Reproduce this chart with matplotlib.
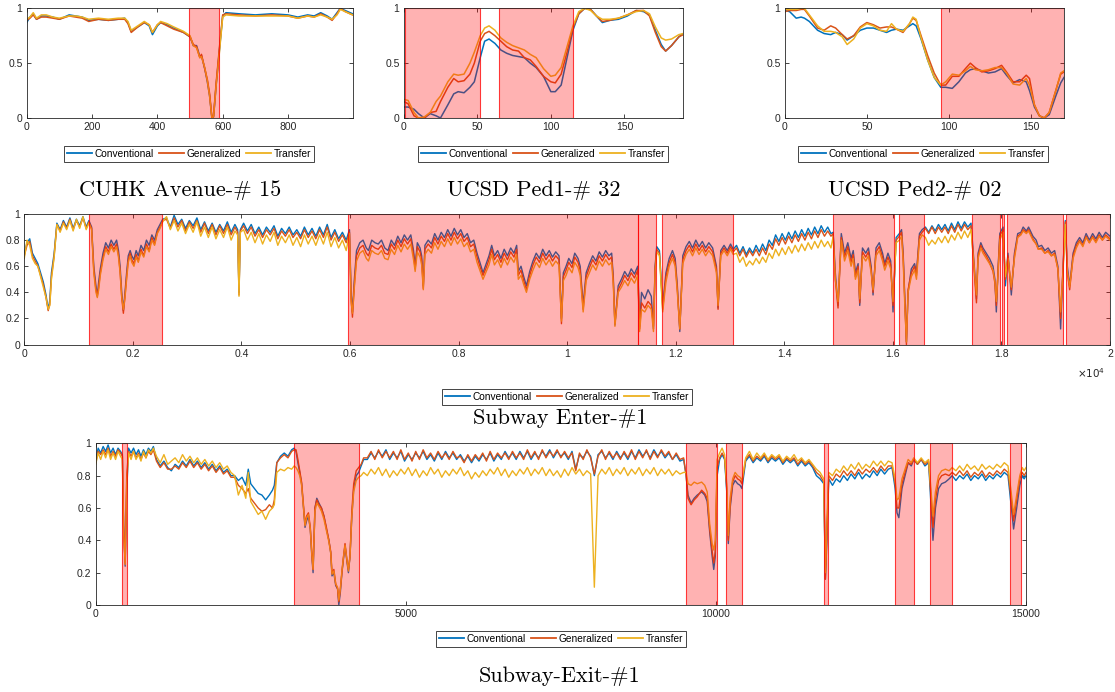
import numpy as np
import matplotlib
matplotlib.use('Agg')
import matplotlib.pyplot as plt
from matplotlib.lines import Line2D

plt.rcParams['font.family'] = ['Liberation Sans', 'DejaVu Sans']

names = ['Conventional', 'Generalized', 'Transfer']
colors = ['#0072BD', '#D95319', '#EDB120']

# ---------------- CUHK Avenue-# 15 ----------------
avenue_x = [0, 10, 20, 30, 45, 60, 80, 100, 130, 150, 170, 190, 220, 250, 280, 300, 310, 320, 340, 360,
            375, 385, 400, 410, 430, 450, 480, 500, 510, 520, 530, 535, 545, 553, 560, 567, 572, 580, 590, 600,
            610, 650, 700, 750, 800, 830, 860, 880, 900, 920, 935, 950, 960, 975, 990, 998]
avenue_conv = [0.87, 0.92, 0.95, 0.9, 0.93, 0.93, 0.92, 0.9, 0.94, 0.93, 0.92, 0.89, 0.9, 0.89, 0.9, 0.91, 0.87, 0.79, 0.83, 0.87,
               0.84, 0.76, 0.84, 0.87, 0.85, 0.82, 0.78, 0.74, 0.66, 0.66, 0.56, 0.57, 0.45, 0.33, 0.2, 0.0, 0.01, 0.3, 0.62, 0.93,
               0.96, 0.95, 0.94, 0.95, 0.94, 0.92, 0.94, 0.93, 0.96, 0.93, 0.9, 0.96, 1.0, 0.98, 0.96, 0.95]
avenue_gen = [0.89, 0.91, 0.94, 0.9, 0.92, 0.92, 0.91, 0.9, 0.93, 0.92, 0.91, 0.88, 0.9, 0.89, 0.9, 0.9, 0.86, 0.78, 0.83, 0.87,
              0.85, 0.78, 0.85, 0.87, 0.84, 0.81, 0.78, 0.74, 0.67, 0.65, 0.55, 0.58, 0.45, 0.35, 0.22, 0.0, 0.02, 0.32, 0.64, 0.94,
              0.95, 0.94, 0.93, 0.94, 0.93, 0.91, 0.93, 0.92, 0.95, 0.92, 0.89, 0.95, 1.0, 0.97, 0.95, 0.94]
avenue_trans = [0.9, 0.92, 0.96, 0.91, 0.94, 0.94, 0.92, 0.91, 0.93, 0.93, 0.92, 0.9, 0.91, 0.9, 0.91, 0.91, 0.88, 0.8, 0.84, 0.88,
                0.85, 0.78, 0.85, 0.88, 0.86, 0.83, 0.79, 0.75, 0.66, 0.64, 0.55, 0.56, 0.46, 0.34, 0.2, 0.0, 0.01, 0.3, 0.6, 0.92,
                0.94, 0.93, 0.93, 0.93, 0.93, 0.91, 0.93, 0.92, 0.94, 0.92, 0.9, 0.94, 0.99, 0.97, 0.95, 0.94]
avenue_spans = [(497, 588)]

# ---------------- UCSD Ped1-# 32 ----------------
ped1_x = [0, 3, 7, 10, 14, 18, 22, 25, 30, 34, 37, 41, 45, 48, 52, 55, 58, 62, 66, 70, 74, 78, 82, 86,
          90, 95, 100, 103, 107, 111, 115, 119, 123, 127, 131, 135, 140, 146, 152, 158, 163, 167, 171, 175, 178, 182, 187, 190]
ped1_conv = [0.1, 0.1, 0.08, 0.04, 0.0, 0.04, 0.02, 0.0, 0.12, 0.22, 0.24, 0.23, 0.28, 0.33, 0.55, 0.7, 0.72, 0.68, 0.62, 0.59, 0.57, 0.56, 0.55, 0.5,
             0.46, 0.38, 0.24, 0.24, 0.3, 0.55, 0.8, 0.95, 1.0, 0.99, 0.93, 0.87, 0.89, 0.9, 0.93, 0.98, 0.97, 0.94, 0.8, 0.67, 0.61, 0.66, 0.74, 0.77]
ped1_gen = [0.15, 0.13, 0.02, 0.0, 0.0, 0.05, 0.06, 0.15, 0.28, 0.36, 0.33, 0.34, 0.4, 0.5, 0.7, 0.77, 0.79, 0.75, 0.7, 0.65, 0.62, 0.61, 0.55, 0.53,
            0.47, 0.38, 0.33, 0.32, 0.4, 0.6, 0.82, 0.95, 1.0, 0.99, 0.93, 0.88, 0.89, 0.91, 0.94, 0.98, 0.98, 0.93, 0.78, 0.65, 0.61, 0.66, 0.74, 0.76]
ped1_trans = [0.17, 0.16, 0.05, 0.0, 0.01, 0.05, 0.15, 0.2, 0.33, 0.4, 0.39, 0.4, 0.5, 0.6, 0.75, 0.82, 0.84, 0.8, 0.73, 0.69, 0.66, 0.64, 0.62, 0.58,
              0.55, 0.45, 0.38, 0.39, 0.46, 0.65, 0.84, 0.97, 1.0, 0.98, 0.93, 0.9, 0.9, 0.91, 0.94, 0.97, 0.98, 0.95, 0.83, 0.73, 0.71, 0.72, 0.76, 0.77]
ped1_spans = [(1, 52), (65, 115)]

# ---------------- UCSD Ped2-# 02 ----------------
ped2_x = [0, 3, 7, 10, 12, 15, 20, 24, 28, 31, 35, 38, 42, 46, 50, 54, 58, 62, 65, 68, 72, 76, 78, 80, 83,
          87, 91, 95, 98, 102, 106, 110, 113, 116, 120, 124, 128, 132, 135, 139, 143, 147, 149, 152, 155, 158, 161, 165, 168, 170]
ped2_conv = [0.98, 0.97, 0.91, 0.92, 0.91, 0.88, 0.8, 0.77, 0.76, 0.78, 0.76, 0.71, 0.75, 0.8, 0.82, 0.82, 0.8, 0.78, 0.8, 0.81, 0.8, 0.84, 0.86, 0.84, 0.72,
             0.53, 0.37, 0.28, 0.28, 0.27, 0.33, 0.41, 0.44, 0.45, 0.43, 0.41, 0.42, 0.45, 0.39, 0.32, 0.35, 0.33, 0.25, 0.1, 0.02, 0.0, 0.03, 0.2, 0.32, 0.37]
ped2_gen = [0.97, 0.98, 0.98, 0.99, 0.99, 0.93, 0.82, 0.8, 0.84, 0.82, 0.76, 0.72, 0.75, 0.83, 0.87, 0.85, 0.82, 0.83, 0.83, 0.81, 0.78, 0.86, 0.91, 0.89, 0.75,
            0.57, 0.41, 0.3, 0.3, 0.38, 0.38, 0.45, 0.5, 0.46, 0.42, 0.43, 0.45, 0.48, 0.42, 0.33, 0.33, 0.39, 0.36, 0.12, 0.02, 0.0, 0.05, 0.25, 0.4, 0.42]
ped2_trans = [0.99, 0.99, 0.99, 1.0, 1.0, 0.94, 0.84, 0.79, 0.79, 0.78, 0.74, 0.67, 0.72, 0.82, 0.86, 0.84, 0.8, 0.79, 0.86, 0.81, 0.79, 0.86, 0.92, 0.9, 0.73,
              0.53, 0.37, 0.3, 0.33, 0.4, 0.39, 0.43, 0.47, 0.44, 0.43, 0.44, 0.46, 0.46, 0.41, 0.31, 0.3, 0.36, 0.3, 0.12, 0.02, 0.0, 0.05, 0.25, 0.41, 0.43]
ped2_spans = [(95, 170)]

# ---------------- Subway Enter-#1 ----------------
enter_x = ([0, 50, 100, 150, 200, 250, 300, 350, 400, 440, 470, 500, 550, 600]
           + [660, 720, 780, 840, 900, 960, 1020, 1080, 1140, 1190]
           + [1240, 1280, 1320, 1345, 1370, 1400, 1450, 1500, 1550, 1600, 1650, 1700, 1735, 1765, 1795, 1825, 1855,
              1885, 1915, 1950, 1980, 2020, 2060, 2100, 2150, 2200, 2250, 2300, 2350, 2400, 2450, 2500, 2550]
           + list(range(2620, 3881, 70)) + [3930, 3955, 3980]
           + list(range(4040, 5931, 70))
           + [5990, 6020, 6045, 6080, 6120, 6180, 6240, 6300, 6340, 6400, 6460, 6520, 6580, 6640]
           + [6700, 6760, 6820, 6880, 6940, 7000, 7060, 7120, 7170, 7200, 7240, 7290, 7320, 7350, 7380, 7440, 7500, 7560, 7620, 7680,
              7740, 7800, 7860, 7920, 7980, 8040, 8100, 8160, 8220, 8280, 8340, 8400, 8450, 8510, 8560, 8610, 8660, 8720, 8780, 8840,
              8900, 8960, 9020, 9070, 9100, 9150, 9200, 9250, 9310, 9370, 9430, 9490, 9550, 9610, 9670, 9730, 9790, 9850, 9895, 9930,
              9980, 10030, 10090, 10140, 10200, 10240, 10295, 10350, 10410, 10470, 10530, 10590, 10650, 10710, 10770, 10820, 10850, 10880, 10940, 11000,
              11060, 11120, 11180, 11240, 11300, 11335, 11370, 11430, 11490, 11550, 11590, 11620, 11650, 11700, 11760, 11820, 11880, 11940, 11990, 12030,
              12075, 12130, 12190, 12250, 12310, 12370, 12430, 12490, 12550, 12610, 12680, 12750, 12780, 12830, 12890, 12950, 13010, 13060]
           + list(range(13120, 14861, 60))
           + [14900, 14940, 14990, 15050, 15110, 15170, 15230, 15270, 15310, 15360, 15390, 15440, 15500, 15550, 15600, 15635, 15690, 15750,
              15810, 15850, 15910, 15960, 16003, 16060, 16120, 16160, 16190, 16220, 16250, 16280, 16340, 16400, 16435, 16490, 16540]
           + list(range(16600, 17441, 60))
           + [17500, 17540, 17570, 17620, 17660, 17720, 17780, 17845, 17880, 17906, 17940, 17970, 18030, 18073, 18120, 18182, 18240, 18300,
              18360, 18400, 18460, 18500, 18580, 18640, 18680, 18740, 18800, 18860, 18920, 18980, 19040, 19090, 19135, 19177, 19214, 19257,
              19320, 19380, 19440, 19500, 19560, 19620, 19680, 19740, 19800, 19860, 19920, 20000])
enter_conv = ([0.70, 0.78, 0.81, 0.70, 0.66, 0.62, 0.55, 0.48, 0.38, 0.27, 0.34, 0.55, 0.70, 0.93]
              + [0.88, 0.95, 0.90, 0.97, 0.89, 0.96, 0.91, 0.98, 0.90, 0.95]
              + [0.90, 0.60, 0.45, 0.37, 0.48, 0.58, 0.70, 0.78, 0.74, 0.80, 0.76, 0.80, 0.72, 0.60, 0.40, 0.26, 0.40,
                 0.55, 0.68, 0.72, 0.68, 0.65, 0.72, 0.68, 0.76, 0.72, 0.80, 0.76, 0.84, 0.80, 0.88, 0.92, 0.96]
              + [0.97, 0.90, 0.99, 0.92, 0.96, 0.89, 0.95, 0.91, 0.97, 0.88, 0.94, 0.87, 0.93, 0.86, 0.92, 0.87, 0.94, 0.86, 0.92, 0.88, 0.40, 0.88]
              + [0.93, 0.87, 0.92, 0.85, 0.90, 0.84, 0.90, 0.86, 0.91, 0.83, 0.89, 0.85, 0.90, 0.84, 0.88, 0.83, 0.90, 0.84, 0.89, 0.83,
                 0.90, 0.84, 0.92, 0.82, 0.88, 0.81, 0.86, 0.80]
              + [0.88, 0.40, 0.25, 0.50, 0.72, 0.78, 0.80, 0.74, 0.72, 0.80, 0.78, 0.77, 0.80, 0.74]
              + [0.72, 0.80, 0.76, 0.83, 0.78, 0.84, 0.80, 0.84, 0.72, 0.60, 0.78, 0.74, 0.68, 0.45, 0.76, 0.80, 0.77, 0.85, 0.80, 0.86,
                 0.82, 0.88, 0.83, 0.89, 0.84, 0.88, 0.82, 0.85, 0.78, 0.80, 0.70, 0.62, 0.55, 0.62, 0.68, 0.76, 0.68, 0.72, 0.66, 0.73,
                 0.68, 0.74, 0.70, 0.76, 0.56, 0.60, 0.52, 0.45, 0.56, 0.64, 0.70, 0.66, 0.73, 0.68, 0.72, 0.67, 0.71, 0.68, 0.20, 0.55,
                 0.60, 0.66, 0.62, 0.70, 0.66, 0.60, 0.30, 0.55, 0.62, 0.68, 0.64, 0.71, 0.67, 0.72, 0.68, 0.70, 0.52, 0.15, 0.45, 0.50,
                 0.56, 0.52, 0.58, 0.54, 0.60, 0.14, 0.40, 0.35, 0.42, 0.37, 0.12, 0.60, 0.75, 0.72, 0.30, 0.55, 0.66, 0.72, 0.66, 0.45,
                 0.10, 0.68, 0.75, 0.79, 0.74, 0.80, 0.75, 0.79, 0.74, 0.78, 0.74, 0.60, 0.28, 0.72, 0.76, 0.72, 0.77, 0.73]
              + [0.76, 0.70, 0.75, 0.69, 0.74, 0.70, 0.76, 0.71, 0.77, 0.72, 0.80, 0.76, 0.84, 0.79, 0.85, 0.80, 0.86, 0.81, 0.87, 0.82,
                 0.88, 0.83, 0.89, 0.84, 0.90, 0.85, 0.91, 0.86, 0.90, 0.85]
              + [0.86, 0.55, 0.30, 0.85, 0.70, 0.78, 0.66, 0.72, 0.55, 0.62, 0.30, 0.74, 0.70, 0.74, 0.60, 0.38, 0.74, 0.78,
                 0.70, 0.62, 0.70, 0.64, 0.25, 0.82, 0.85, 0.88, 0.70, 0.35, 0.02, 0.40, 0.58, 0.62, 0.55, 0.85, 0.88]
              + [0.90, 0.86, 0.91, 0.87, 0.92, 0.88, 0.92, 0.87, 0.93, 0.88, 0.94, 0.89, 0.94, 0.90, 0.93]
              + [0.60, 0.35, 0.70, 0.78, 0.74, 0.70, 0.66, 0.60, 0.50, 0.25, 0.60, 0.85, 0.90, 0.45, 0.70, 0.38, 0.70, 0.85,
                 0.86, 0.90, 0.87, 0.90, 0.83, 0.80, 0.75, 0.76, 0.72, 0.74, 0.70, 0.72, 0.60, 0.12, 0.60, 0.95, 0.60, 0.45,
                 0.70, 0.78, 0.82, 0.78, 0.85, 0.80, 0.85, 0.81, 0.86, 0.82, 0.86, 0.83])
enter_gen = ([0.68, 0.76, 0.79, 0.68, 0.64, 0.60, 0.53, 0.46, 0.36, 0.26, 0.31, 0.52, 0.68, 0.92]
             + [0.87, 0.94, 0.89, 0.96, 0.88, 0.95, 0.90, 0.97, 0.89, 0.94]
             + [0.89, 0.57, 0.42, 0.38, 0.44, 0.55, 0.67, 0.75, 0.71, 0.77, 0.73, 0.77, 0.69, 0.56, 0.36, 0.24, 0.37,
                0.52, 0.65, 0.70, 0.65, 0.62, 0.69, 0.64, 0.73, 0.68, 0.77, 0.72, 0.82, 0.77, 0.86, 0.90, 0.95]
             + [0.96, 0.89, 0.97, 0.90, 0.95, 0.87, 0.94, 0.89, 0.95, 0.86, 0.93, 0.85, 0.92, 0.84, 0.91, 0.85, 0.92, 0.84, 0.90, 0.86, 0.38, 0.87]
             + [0.91, 0.85, 0.90, 0.83, 0.88, 0.82, 0.88, 0.84, 0.89, 0.81, 0.87, 0.83, 0.88, 0.82, 0.86, 0.81, 0.88, 0.82, 0.87, 0.81,
                0.88, 0.82, 0.90, 0.80, 0.86, 0.79, 0.84, 0.78]
             + [0.86, 0.35, 0.21, 0.46, 0.68, 0.74, 0.76, 0.70, 0.68, 0.76, 0.74, 0.73, 0.76, 0.70]
             + [0.69, 0.77, 0.73, 0.80, 0.75, 0.81, 0.77, 0.81, 0.69, 0.58, 0.75, 0.71, 0.65, 0.43, 0.73, 0.77, 0.74, 0.82, 0.77, 0.83,
                0.79, 0.85, 0.80, 0.86, 0.81, 0.85, 0.79, 0.82, 0.75, 0.77, 0.67, 0.59, 0.53, 0.59, 0.65, 0.73, 0.65, 0.69, 0.63, 0.70,
                0.65, 0.71, 0.67, 0.73, 0.53, 0.57, 0.49, 0.42, 0.53, 0.61, 0.67, 0.63, 0.70, 0.65, 0.69, 0.64, 0.68, 0.65, 0.16, 0.52,
                0.57, 0.63, 0.59, 0.67, 0.63, 0.57, 0.27, 0.52, 0.59, 0.65, 0.61, 0.68, 0.64, 0.69, 0.65, 0.67, 0.49, 0.16, 0.42, 0.47,
                0.53, 0.49, 0.55, 0.51, 0.57, 0.12, 0.32, 0.28, 0.33, 0.30, 0.14, 0.58, 0.73, 0.70, 0.27, 0.52, 0.63, 0.69, 0.63, 0.42,
                0.12, 0.65, 0.72, 0.76, 0.71, 0.77, 0.72, 0.76, 0.71, 0.75, 0.71, 0.58, 0.27, 0.70, 0.74, 0.70, 0.75, 0.71]
             + [0.74, 0.68, 0.73, 0.67, 0.72, 0.68, 0.73, 0.68, 0.74, 0.69, 0.77, 0.73, 0.81, 0.76, 0.82, 0.77, 0.83, 0.78, 0.84, 0.79,
                0.85, 0.80, 0.86, 0.81, 0.87, 0.82, 0.88, 0.83, 0.87, 0.83]
             + [0.85, 0.50, 0.28, 0.82, 0.67, 0.75, 0.63, 0.69, 0.52, 0.60, 0.32, 0.71, 0.67, 0.71, 0.57, 0.40, 0.71, 0.75,
                0.67, 0.60, 0.67, 0.61, 0.30, 0.80, 0.83, 0.86, 0.67, 0.33, 0.00, 0.42, 0.55, 0.60, 0.53, 0.83, 0.86]
             + [0.89, 0.85, 0.90, 0.85, 0.90, 0.86, 0.90, 0.85, 0.91, 0.86, 0.92, 0.87, 0.92, 0.88, 0.91]
             + [0.56, 0.32, 0.68, 0.76, 0.72, 0.68, 0.63, 0.56, 0.47, 0.30, 0.58, 0.83, 0.88, 0.50, 0.68, 0.42, 0.68, 0.83,
                0.85, 0.88, 0.86, 0.88, 0.81, 0.77, 0.73, 0.74, 0.70, 0.72, 0.68, 0.70, 0.58, 0.20, 0.58, 0.94, 0.55, 0.42,
                0.68, 0.76, 0.80, 0.76, 0.83, 0.78, 0.83, 0.79, 0.84, 0.80, 0.84, 0.81])
enter_trans = ([0.66, 0.80, 0.76, 0.66, 0.62, 0.60, 0.52, 0.44, 0.36, 0.27, 0.30, 0.50, 0.67, 0.92]
               + [0.86, 0.93, 0.88, 0.95, 0.87, 0.96, 0.89, 0.98, 0.88, 0.93]
               + [0.88, 0.55, 0.40, 0.36, 0.42, 0.53, 0.65, 0.73, 0.69, 0.75, 0.71, 0.75, 0.67, 0.55, 0.36, 0.27, 0.36,
                  0.50, 0.63, 0.68, 0.63, 0.60, 0.67, 0.63, 0.71, 0.67, 0.75, 0.71, 0.80, 0.76, 0.85, 0.89, 0.94]
               + [0.98, 0.88, 0.95, 0.87, 0.93, 0.85, 0.92, 0.86, 0.94, 0.83, 0.90, 0.82, 0.90, 0.81, 0.88, 0.82, 0.90, 0.80, 0.87, 0.84, 0.37, 0.86]
               + [0.88, 0.80, 0.86, 0.78, 0.85, 0.77, 0.84, 0.79, 0.86, 0.76, 0.83, 0.78, 0.84, 0.76, 0.82, 0.75, 0.84, 0.77, 0.83, 0.76,
                  0.84, 0.77, 0.86, 0.75, 0.82, 0.74, 0.80, 0.72]
               + [0.85, 0.33, 0.24, 0.44, 0.64, 0.70, 0.72, 0.66, 0.64, 0.72, 0.70, 0.69, 0.72, 0.66]
               + [0.65, 0.73, 0.69, 0.76, 0.71, 0.77, 0.73, 0.77, 0.65, 0.56, 0.71, 0.67, 0.61, 0.42, 0.69, 0.73, 0.70, 0.78, 0.73, 0.79,
                  0.75, 0.81, 0.76, 0.82, 0.77, 0.81, 0.75, 0.78, 0.71, 0.73, 0.63, 0.56, 0.50, 0.56, 0.61, 0.69, 0.61, 0.65, 0.59, 0.66,
                  0.61, 0.67, 0.63, 0.69, 0.50, 0.53, 0.46, 0.40, 0.50, 0.57, 0.63, 0.59, 0.66, 0.61, 0.65, 0.60, 0.64, 0.61, 0.18, 0.49,
                  0.53, 0.59, 0.55, 0.63, 0.59, 0.53, 0.25, 0.49, 0.55, 0.61, 0.57, 0.64, 0.60, 0.65, 0.61, 0.63, 0.46, 0.14, 0.40, 0.44,
                  0.49, 0.45, 0.51, 0.47, 0.53, 0.10, 0.27, 0.25, 0.30, 0.27, 0.10, 0.55, 0.71, 0.68, 0.25, 0.48, 0.60, 0.66, 0.60, 0.40,
                  0.12, 0.62, 0.69, 0.73, 0.68, 0.74, 0.69, 0.73, 0.68, 0.72, 0.68, 0.55, 0.30, 0.68, 0.72, 0.68, 0.73, 0.69]
               + [0.70, 0.63, 0.67, 0.60, 0.64, 0.61, 0.66, 0.62, 0.67, 0.63, 0.70, 0.66, 0.73, 0.68, 0.74, 0.69, 0.75, 0.70, 0.76, 0.71,
                  0.77, 0.72, 0.78, 0.73, 0.79, 0.74, 0.80, 0.75, 0.79, 0.74]
               + [0.83, 0.50, 0.33, 0.80, 0.64, 0.72, 0.60, 0.66, 0.50, 0.57, 0.35, 0.68, 0.64, 0.68, 0.55, 0.42, 0.68, 0.72,
                  0.64, 0.57, 0.64, 0.58, 0.33, 0.78, 0.80, 0.83, 0.64, 0.30, 0.02, 0.40, 0.52, 0.57, 0.50, 0.80, 0.84]
               + [0.82, 0.76, 0.80, 0.77, 0.82, 0.78, 0.83, 0.78, 0.84, 0.80, 0.86, 0.81, 0.87, 0.82, 0.88]
               + [0.58, 0.38, 0.66, 0.74, 0.70, 0.66, 0.62, 0.57, 0.48, 0.33, 0.56, 0.80, 0.86, 0.52, 0.66, 0.44, 0.66, 0.82,
                  0.84, 0.87, 0.85, 0.87, 0.80, 0.77, 0.73, 0.73, 0.70, 0.71, 0.68, 0.69, 0.58, 0.25, 0.56, 0.92, 0.56, 0.44,
                  0.66, 0.74, 0.79, 0.75, 0.82, 0.78, 0.82, 0.78, 0.83, 0.80, 0.83, 0.80])
enter_spans = [(1191, 2542), (5967, 11296), (11296, 11639), (11749, 13057), (14898, 16030), (16110, 16582),
               (17466, 17975), (18010, 18040), (18110, 19130), (19184, 20000)]

# ---------------- Subway-Exit-#1 ----------------
exit_x = ([0, 40, 80, 120, 160, 200, 240, 280, 320, 360, 400, 430, 450, 475, 500, 530]
          + list(range(570, 931, 40))
          + list(range(980, 2181, 60))
          + [2240, 2300, 2360, 2420, 2460, 2500, 2560, 2620, 2680, 2740, 2800, 2850, 2880, 2920, 2980, 3040, 3100, 3160, 3200]
          + [3230, 3260, 3290, 3320, 3350, 3375, 3400, 3430, 3460, 3485, 3505, 3535, 3565, 3600, 3640, 3680, 3720, 3760, 3790,
             3810, 3840, 3870, 3900, 3920, 3945, 3970, 3990, 4020, 4050, 4075, 4100, 4130, 4160, 4200, 4240, 4280, 4320]
          + list(range(4380, 9481, 60))
          + [9520, 9550, 9600, 9650, 9700, 9770, 9820, 9860, 9900, 9940, 9965, 9990, 10020]
          + [10060, 10100, 10140, 10175, 10200, 10230, 10270, 10310, 10350, 10390, 10420]
          + list(range(10480, 11681, 60)) + [11740, 11765, 11790, 11820]
          + list(range(11880, 12841, 60))
          + [12890, 12920, 12950, 13000, 13050, 13100, 13150, 13190, 13250, 13310, 13370, 13430]
          + [13470, 13500, 13540, 13590, 13640, 13700, 13760, 13810]
          + list(range(13870, 14711, 60))
          + [14760, 14800, 14850, 14900, 14940, 14970, 15000])
exit_conv = ([0.90, 0.97, 0.94, 0.98, 0.95, 0.99, 0.94, 0.97, 0.93, 0.97, 0.95, 0.93, 0.50, 0.24, 0.70, 0.97]
             + [0.94, 0.97, 0.93, 0.96, 0.92, 0.96, 0.93, 0.97, 0.95, 0.98]
             + [0.90, 0.86, 0.89, 0.85, 0.83, 0.87, 0.85, 0.89, 0.86, 0.90, 0.86, 0.89, 0.85, 0.88, 0.84, 0.87, 0.83, 0.86, 0.82, 0.84, 0.80]
             + [0.80, 0.77, 0.79, 0.74, 0.84, 0.75, 0.72, 0.69, 0.68, 0.65, 0.68, 0.71, 0.74, 0.88, 0.92, 0.94, 0.92, 0.96, 0.97]
             + [0.95, 0.88, 0.82, 0.75, 0.60, 0.48, 0.52, 0.55, 0.47, 0.30, 0.20, 0.60, 0.66, 0.63, 0.60, 0.55, 0.47, 0.40, 0.32,
                0.18, 0.20, 0.12, 0.10, 0.00, 0.08, 0.20, 0.27, 0.37, 0.27, 0.20, 0.30, 0.55, 0.72, 0.80, 0.82, 0.86, 0.90]
             + [0.90, 0.94, 0.91, 0.95, 0.92, 0.96, 0.90, 0.94, 0.91, 0.95,
                0.89, 0.93, 0.90, 0.94, 0.91, 0.95, 0.90, 0.93, 0.89, 0.94,
                0.90, 0.95, 0.91, 0.94, 0.90, 0.93, 0.89, 0.92, 0.88, 0.92,
                0.89, 0.93, 0.90, 0.94, 0.89, 0.93, 0.90, 0.95, 0.91, 0.94,
                0.90, 0.95, 0.91, 0.95, 0.90, 0.94, 0.91, 0.95, 0.92, 0.96,
                0.91, 0.95, 0.92, 0.94, 0.90, 0.95, 0.84, 0.93, 0.91, 0.95,
                0.92, 0.80, 0.93, 0.95, 0.91, 0.94, 0.90, 0.95, 0.91, 0.94,
                0.90, 0.95, 0.91, 0.96, 0.92, 0.95, 0.91, 0.96, 0.92, 0.95,
                0.91, 0.94, 0.90, 0.93, 0.89, 0.90]
             + [0.80, 0.68, 0.63, 0.66, 0.68, 0.70, 0.68, 0.64, 0.45, 0.30, 0.22, 0.30, 0.80]
             + [0.90, 0.93, 0.90, 0.70, 0.38, 0.60, 0.74, 0.77, 0.75, 0.74, 0.72]
             + [0.89, 0.92, 0.88, 0.91, 0.89, 0.92, 0.88, 0.91, 0.89, 0.91, 0.87, 0.90, 0.88, 0.90, 0.86, 0.89, 0.86, 0.88, 0.85, 0.80, 0.78]
             + [0.75, 0.16, 0.40, 0.78]
             + [0.74, 0.78, 0.76, 0.80, 0.77, 0.81, 0.78, 0.82, 0.78, 0.81, 0.79, 0.83, 0.80, 0.84, 0.81, 0.84, 0.85]
             + [0.72, 0.57, 0.54, 0.72, 0.80, 0.88, 0.86, 0.90, 0.87, 0.90, 0.86, 0.88]
             + [0.60, 0.40, 0.60, 0.72, 0.75, 0.76, 0.78, 0.80]
             + [0.77, 0.80, 0.78, 0.81, 0.77, 0.80, 0.78, 0.81, 0.77, 0.80, 0.78, 0.81, 0.79, 0.82, 0.80]
             + [0.62, 0.47, 0.60, 0.74, 0.80, 0.78, 0.80])
exit_gen = ([0.88, 0.95, 0.93, 0.96, 0.93, 0.97, 0.92, 0.95, 0.92, 0.96, 0.94, 0.92, 0.48, 0.26, 0.80, 0.95]
            + [0.92, 0.95, 0.91, 0.94, 0.90, 0.94, 0.91, 0.95, 0.93, 0.96]
            + [0.89, 0.85, 0.88, 0.84, 0.84, 0.86, 0.84, 0.88, 0.85, 0.89, 0.85, 0.88, 0.84, 0.87, 0.83, 0.86, 0.82, 0.85, 0.81, 0.83, 0.79]
            + [0.79, 0.74, 0.72, 0.69, 0.72, 0.66, 0.63, 0.60, 0.58, 0.59, 0.62, 0.60, 0.65, 0.88, 0.91, 0.93, 0.91, 0.95, 0.96]
            + [0.96, 0.90, 0.83, 0.76, 0.62, 0.50, 0.55, 0.57, 0.48, 0.32, 0.22, 0.60, 0.65, 0.62, 0.60, 0.55, 0.48, 0.40, 0.33,
               0.20, 0.22, 0.13, 0.10, 0.02, 0.10, 0.20, 0.28, 0.38, 0.28, 0.22, 0.30, 0.58, 0.75, 0.83, 0.85, 0.87, 0.91]
            + [0.91, 0.95, 0.90, 0.96, 0.91, 0.95, 0.91, 0.95, 0.90, 0.96,
               0.90, 0.94, 0.89, 0.95, 0.90, 0.96, 0.91, 0.94, 0.90, 0.95,
               0.91, 0.94, 0.90, 0.95, 0.91, 0.92, 0.88, 0.93, 0.89, 0.93,
               0.90, 0.94, 0.89, 0.95, 0.90, 0.94, 0.91, 0.94, 0.90, 0.95,
               0.91, 0.94, 0.90, 0.96, 0.91, 0.95, 0.90, 0.96, 0.91, 0.95,
               0.92, 0.96, 0.91, 0.95, 0.91, 0.94, 0.83, 0.94, 0.90, 0.96,
               0.91, 0.81, 0.92, 0.96, 0.90, 0.95, 0.91, 0.94, 0.90, 0.95,
               0.91, 0.96, 0.90, 0.95, 0.91, 0.96, 0.90, 0.95, 0.91, 0.96,
               0.92, 0.95, 0.90, 0.94, 0.90, 0.91]
            + [0.80, 0.66, 0.62, 0.65, 0.67, 0.71, 0.69, 0.66, 0.47, 0.33, 0.26, 0.33, 0.85]
            + [0.91, 0.94, 0.91, 0.72, 0.40, 0.62, 0.76, 0.80, 0.78, 0.77, 0.75]
            + [0.90, 0.93, 0.89, 0.92, 0.90, 0.93, 0.89, 0.92, 0.90, 0.92, 0.88, 0.91, 0.89, 0.91, 0.87, 0.90, 0.87, 0.89, 0.86, 0.82, 0.80]
            + [0.76, 0.16, 0.45, 0.80]
            + [0.77, 0.81, 0.79, 0.83, 0.80, 0.83, 0.80, 0.84, 0.81, 0.84, 0.82, 0.85, 0.82, 0.86, 0.83, 0.86, 0.86]
            + [0.75, 0.60, 0.60, 0.75, 0.82, 0.88, 0.87, 0.90, 0.87, 0.90, 0.87, 0.89]
            + [0.65, 0.48, 0.65, 0.77, 0.80, 0.81, 0.80, 0.82]
            + [0.80, 0.83, 0.80, 0.83, 0.79, 0.82, 0.80, 0.83, 0.79, 0.82, 0.80, 0.83, 0.81, 0.84, 0.82]
            + [0.66, 0.52, 0.65, 0.78, 0.82, 0.80, 0.82])
exit_trans = ([0.87, 0.94, 0.90, 0.95, 0.91, 0.96, 0.90, 0.94, 0.90, 0.95, 0.92, 0.90, 0.45, 0.25, 0.75, 0.94]
              + [0.90, 0.95, 0.90, 0.93, 0.89, 0.95, 0.91, 0.96, 0.94, 0.97]
              + [0.92, 0.88, 0.93, 0.87, 0.89, 0.91, 0.88, 0.93, 0.89, 0.92, 0.88, 0.91, 0.87, 0.90, 0.86, 0.89, 0.85, 0.88, 0.84, 0.86, 0.82]
              + [0.80, 0.68, 0.74, 0.66, 0.82, 0.64, 0.60, 0.56, 0.58, 0.53, 0.58, 0.60, 0.62, 0.82, 0.84, 0.83, 0.85, 0.84, 0.86]
              + [0.85, 0.83, 0.80, 0.74, 0.60, 0.49, 0.54, 0.56, 0.47, 0.31, 0.22, 0.58, 0.63, 0.61, 0.58, 0.53, 0.46, 0.39, 0.32,
                 0.19, 0.21, 0.13, 0.11, 0.03, 0.10, 0.21, 0.28, 0.37, 0.28, 0.21, 0.30, 0.55, 0.70, 0.77, 0.79, 0.80, 0.82]
              + [0.80, 0.84, 0.81, 0.85, 0.80, 0.84, 0.79, 0.83, 0.80, 0.84,
                 0.81, 0.85, 0.80, 0.84, 0.79, 0.83, 0.80, 0.85, 0.81, 0.84,
                 0.79, 0.83, 0.80, 0.84, 0.81, 0.85, 0.80, 0.83, 0.78, 0.82,
                 0.79, 0.83, 0.80, 0.84, 0.81, 0.85, 0.80, 0.84, 0.79, 0.83,
                 0.80, 0.84, 0.81, 0.85, 0.80, 0.84, 0.81, 0.85, 0.80, 0.84,
                 0.80, 0.83, 0.79, 0.84, 0.80, 0.85, 0.81, 0.84, 0.80, 0.83,
                 0.81, 0.11, 0.80, 0.84, 0.81, 0.85, 0.80, 0.84, 0.81, 0.85,
                 0.80, 0.84, 0.81, 0.85, 0.80, 0.84, 0.81, 0.85, 0.80, 0.84,
                 0.81, 0.84, 0.80, 0.83, 0.81, 0.82]
              + [0.82, 0.75, 0.74, 0.76, 0.75, 0.76, 0.74, 0.70, 0.50, 0.38, 0.34, 0.40, 0.90]
              + [0.94, 0.97, 0.93, 0.75, 0.43, 0.66, 0.78, 0.82, 0.80, 0.79, 0.77]
              + [0.91, 0.95, 0.90, 0.94, 0.91, 0.94, 0.90, 0.93, 0.91, 0.93, 0.89, 0.92, 0.90, 0.93, 0.89, 0.91, 0.88, 0.90, 0.87, 0.84, 0.82]
              + [0.78, 0.20, 0.50, 0.82]
              + [0.80, 0.84, 0.82, 0.86, 0.83, 0.87, 0.84, 0.88, 0.84, 0.87, 0.85, 0.89, 0.86, 0.89, 0.86, 0.89, 0.88]
              + [0.78, 0.65, 0.66, 0.78, 0.84, 0.90, 0.88, 0.91, 0.88, 0.91, 0.88, 0.90]
              + [0.70, 0.55, 0.70, 0.80, 0.83, 0.84, 0.83, 0.85]
              + [0.83, 0.86, 0.83, 0.87, 0.84, 0.86, 0.83, 0.87, 0.84, 0.86, 0.84, 0.87, 0.85, 0.88, 0.86]
              + [0.70, 0.56, 0.68, 0.80, 0.85, 0.83, 0.85])
exit_spans = [(430, 512), (3203, 4252), (9521, 10010), (10166, 10419), (11742, 11800),
              (12881, 13187), (13445, 13811), (14747, 14919)]

W, H = 1115, 692
fig = plt.figure(figsize=(W / 100, H / 100), dpi=100)
axc = '#262626'


def px_axes(left, top, right, bottom):
    return fig.add_axes([left / W, 1 - bottom / H, (right - left) / W, (bottom - top) / H])


def draw(ax, x, series, spans, xmax, lw):
    for y, c in zip(series, colors):
        ax.plot(x, y, color=c, lw=lw, zorder=2)
    for a, b in spans:
        ax.axvspan(a, b, facecolor=(1, 0, 0, 0.3), edgecolor=(1, 0, 0, 0.75), lw=0.8, zorder=3)
    ax.set_xlim(0, xmax)
    ax.set_ylim(0, 1)
    for s in ax.spines.values():
        s.set_color(axc)
        s.set_linewidth(0.6)
        s.set_zorder(4)
    ax.tick_params(direction='in', length=3, width=0.6, color=axc, labelcolor=axc,
                   labelsize=7.5, top=True, right=True, pad=3)


def legend(ax, cx, cy):
    handles = [Line2D([], [], color=c, lw=1.3) for c in colors]
    lg = ax.legend(handles, names, loc='center', bbox_to_anchor=(cx / W, 1 - cy / H),
                   bbox_transform=fig.transFigure, ncol=3, fontsize=7.3, fancybox=False,
                   edgecolor=axc, framealpha=1, borderpad=0.25, handlelength=2.5,
                   handletextpad=0.25, columnspacing=0.45, borderaxespad=0)
    lg.get_frame().set_linewidth(0.6)


def title(text, cx, cy):
    fig.text(cx / W, 1 - cy / H, text, ha='center', va='center', fontfamily='cmr10', fontsize=16)


yt3 = [0, 0.5, 1]
yt6 = [0, 0.2, 0.4, 0.6, 0.8, 1]

ax1 = px_axes(26.7, 8.3, 352.7, 118)
draw(ax1, avenue_x, [avenue_conv, avenue_gen, avenue_trans], avenue_spans, 998, 1.1)
ax1.set_xticks([0, 200, 400, 600, 800])
ax1.set_yticks(yt3)
ax1.set_yticklabels(['0', '0.5', '1'])
legend(ax1, 189, 154)
title('CUHK Avenue-# 15', 180, 190)

ax2 = px_axes(403.7, 8.3, 683.3, 118)
draw(ax2, ped1_x, [ped1_conv, ped1_gen, ped1_trans], ped1_spans, 190, 1.1)
ax2.set_xticks([0, 50, 100, 150])
ax2.set_yticks(yt3)
ax2.set_yticklabels(['0', '0.5', '1'])
legend(ax2, 543, 154)
title('UCSD Ped1-# 32', 534, 190)

ax3 = px_axes(784.7, 8.3, 1064, 118)
draw(ax3, ped2_x, [ped2_conv, ped2_gen, ped2_trans], ped2_spans, 170, 1.1)
ax3.set_xticks([0, 50, 100, 150])
ax3.set_yticks(yt3)
ax3.set_yticklabels(['0', '0.5', '1'])
legend(ax3, 923, 154)
title('UCSD Ped2-# 02', 915, 190)

ax4 = px_axes(24.3, 214, 1110, 344.6)
draw(ax4, enter_x, [enter_conv, enter_gen, enter_trans], enter_spans, 20000, 1.0)
ax4.set_xticks(np.arange(0, 20001, 2000))
ax4.set_xticklabels(['0', '0.2', '0.4', '0.6', '0.8', '1', '1.2', '1.4', '1.6', '1.8', '2'])
ax4.set_yticks(yt6)
ax4.set_yticklabels(['0', '0.2', '0.4', '0.6', '0.8', '1'])
fig.text(1091 / W, 1 - 373 / H, r'$\times10^4$', ha='center', va='center', fontsize=7.5, color=axc)
legend(ax4, 567, 397)
title('Subway Enter-#1', 560, 418)

ax5 = px_axes(95.7, 443.3, 1026, 605)
draw(ax5, exit_x, [exit_conv, exit_gen, exit_trans], exit_spans, 15000, 1.0)
ax5.set_xticks([0, 5000, 10000, 15000])
ax5.set_yticks(yt6)
ax5.set_yticklabels(['0', '0.2', '0.4', '0.6', '0.8', '1'])
legend(ax5, 561, 639)
title('Subway-Exit-#1', 560, 676)

fig.savefig('out.png', dpi=100)
